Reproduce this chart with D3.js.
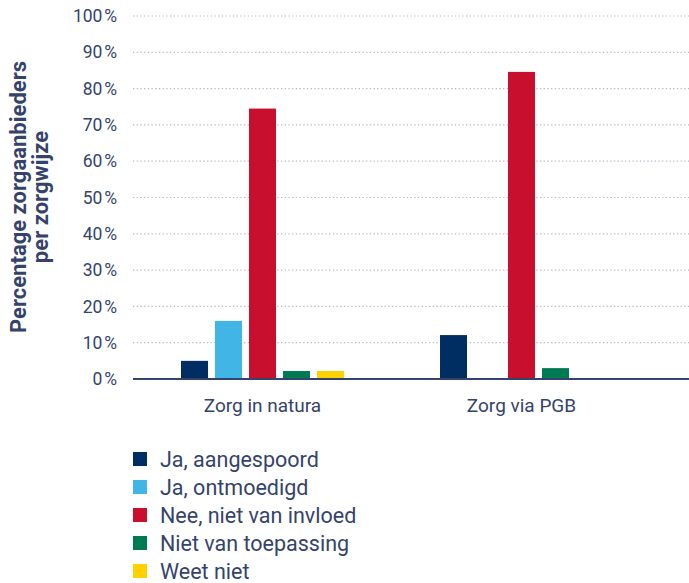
<!DOCTYPE html>
<html lang="nl">
<head>
    <meta charset="UTF-8">
    <title>Zorgaanbieders per zorgwijze</title>
    <style>
        body { margin: 0; background: #fff; }
        text { font-family: Roboto, "Open Sans", sans-serif; fill: #34436b; }
        .grid line { stroke: #b7b7cc; stroke-width: 1.2; stroke-dasharray: 1.3 2.4; }
    </style>
    <script src="https://d3js.org/d3.v7.min.js"></script>
</head>
<body>
    <svg width="689" height="583"></svg>
    <script>
        const groups = ["Zorg in natura", "Zorg via PGB"];
        const series = ["Ja, aangespoord", "Ja, ontmoedigd", "Nee, niet van invloed", "Niet van toepassing", "Weet niet"];
        const colors = ["#002e62", "#41b6e6", "#c8102e", "#007a53", "#ffd100"];
        // values per group, in series order (percent)
        const zorgInNatura = [5, 16, 74.5, 2.2, 2.2];
        const zorgViaPGB = [12.1, 0, 84.6, 3, 0];
        const yTicks = [0, 10, 20, 30, 40, 50, 60, 70, 80, 90, 100];

        const values = [zorgInNatura, zorgViaPGB];
        const svg = d3.select("svg");

        const plotLeft = 133, plotRight = 689, plotTop = 16, plotBottom = 379;

        const y = d3.scaleLinear().domain([0, 100]).range([plotBottom, plotTop]);
        const x0 = d3.scaleBand().domain(groups).range([plotLeft, 651]);
        const x1 = d3.scaleBand().domain(series).range([-81.5, 81.5]).paddingInner(0.206);

        // Gridlines
        svg.append("g")
            .attr("class", "grid")
            .selectAll("line")
            .data(yTicks.filter(d => d > 0))
            .join("line")
            .attr("x1", plotLeft)
            .attr("x2", plotRight)
            .attr("y1", d => y(d))
            .attr("y2", d => y(d));

        // Y tick labels
        svg.append("g")
            .selectAll("text")
            .data(yTicks)
            .join("text")
            .attr("x", 117)
            .attr("y", d => y(d))
            .attr("dy", "0.35em")
            .attr("text-anchor", "end")
            .style("font-size", "17.5px")
            .text(d => d + "\u200A%");

        // Bars
        const group = svg.append("g")
            .selectAll("g")
            .data(groups)
            .join("g")
            .attr("transform", d => "translate(" + (x0(d) + x0.bandwidth() / 2) + ",0)");

        group.selectAll("rect")
            .data((d, i) => values[i].map((v, j) => ({ key: series[j], value: v, color: colors[j] })))
            .join("rect")
            .attr("x", d => x1(d.key))
            .attr("width", x1.bandwidth())
            .attr("y", d => y(d.value))
            .attr("height", d => plotBottom - y(d.value))
            .attr("fill", d => d.color);

        // X axis line
        svg.append("line")
            .attr("x1", plotLeft)
            .attr("x2", plotRight)
            .attr("y1", plotBottom)
            .attr("y2", plotBottom)
            .attr("stroke", "#34436b")
            .attr("stroke-width", 2);

        // Group labels
        svg.append("g")
            .selectAll("text")
            .data(groups)
            .join("text")
            .attr("x", d => x0(d) + x0.bandwidth() / 2)
            .attr("y", 412)
            .attr("text-anchor", "middle")
            .style("font-size", "19px")
            .text(d => d);

        // Y axis title
        const title = svg.append("text")
            .attr("transform", "translate(0,197) rotate(-90)")
            .attr("text-anchor", "middle")
            .style("font-size", "22px")
            .style("font-weight", "bold");
        title.append("tspan").attr("x", 0).attr("y", 26).text("Percentage zorgaanbieders");
        title.append("tspan").attr("x", 0).attr("y", 48).text("per zorgwijze");

        // Legend
        const legend = svg.append("g")
            .selectAll("g")
            .data(series)
            .join("g")
            .attr("transform", (d, i) => "translate(133," + (452 + i * 28) + ")");

        legend.append("rect")
            .attr("width", 14)
            .attr("height", 14)
            .attr("fill", (d, i) => colors[i]);

        legend.append("text")
            .attr("x", 27)
            .attr("y", 7)
            .attr("dy", "0.35em")
            .style("font-size", "21.5px")
            .text(d => d);
    </script>
</body>
</html>
